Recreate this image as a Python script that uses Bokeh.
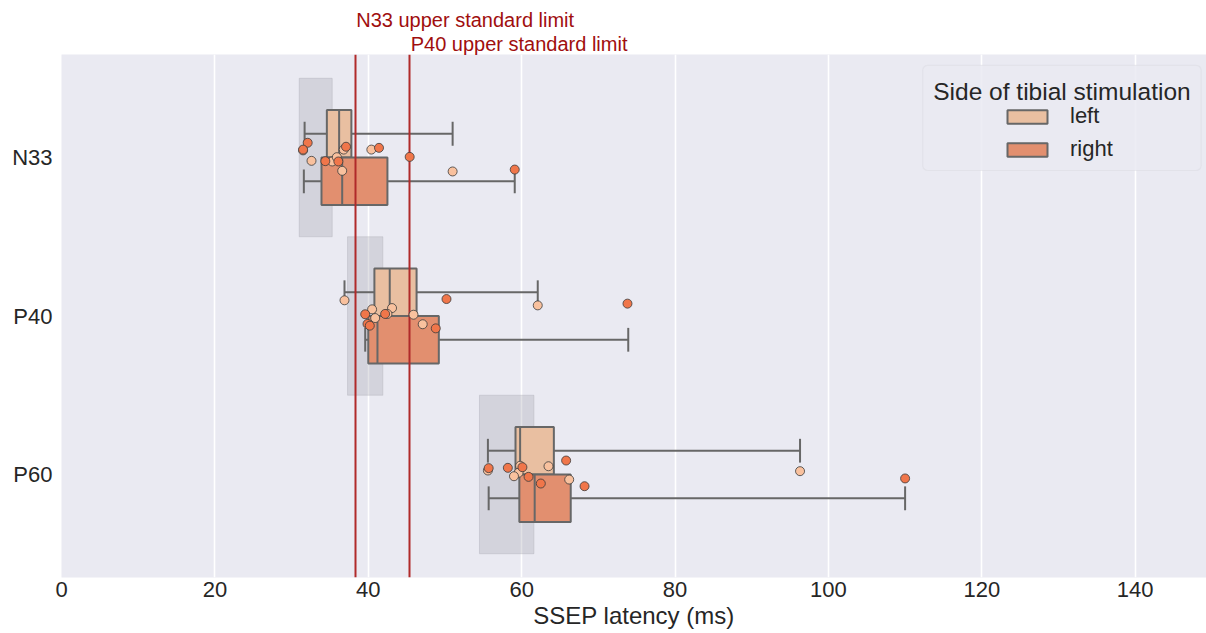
from bokeh.plotting import figure
from bokeh.models import (Range1d, FixedTicker, Label, Legend, LegendItem,
                          BoxAnnotation, ColumnDataSource, Title)
from bokeh.embed import file_html
from bokeh.resources import INLINE

# ---------------- data ----------------
components = ["N33", "P40", "P60"]
sides = ["left", "right"]

left_whisker_lo = [31.7, 36.9, 55.6]
left_q1 = [34.6, 40.8, 59.2]
left_median = [36.2, 42.8, 59.8]
left_q3 = [37.8, 46.3, 64.2]
left_whisker_hi = [51.0, 62.1, 96.3]

right_whisker_lo = [31.6, 39.6, 55.7]
right_q1 = [33.9, 40.0, 59.7]
right_median = [36.6, 41.2, 61.7]
right_q3 = [42.5, 49.2, 66.4]
right_whisker_hi = [59.1, 73.9, 110.0]

# normal (reference) latency range per component
normal_lo = [31.0, 37.3, 54.5]
normal_hi = [35.3, 41.9, 61.6]

limit_names = ["N33 upper standard limit", "P40 upper standard limit"]
limit_values = [38.3, 45.4]

# individual observations (component, latency, strip jitter)
left_comp = ["N33"] * 8 + ["P40"] * 8 + ["P60"] * 7
left_latency = [31.5, 32.6, 35.3, 35.9, 36.6, 36.8, 40.4, 51.0,
                36.9, 62.1, 40.5, 43.1, 42.5, 45.9, 40.9, 47.1,
                96.3, 55.6, 59.8, 59.6, 59.0, 63.5, 66.2]
left_jitter = [-0.045, 0.021, 0.025, -0.002, 0.084, -0.05, -0.05, 0.088,
               -0.099, -0.067, -0.042, -0.05, -0.013, -0.008, 0.013, 0.052,
               -0.021, -0.025, -0.055, -0.011, 0.011, -0.052, 0.032]

right_comp = ["N33"] * 8 + ["P40"] * 7 + ["P60"] * 8
right_latency = [32.1, 31.5, 34.4, 36.1, 37.1, 41.4, 45.4, 59.1,
                 50.2, 73.8, 39.6, 42.2, 39.9, 40.2, 48.8,
                 65.8, 110.0, 55.7, 58.2, 60.1, 60.9, 62.5, 68.2]
right_jitter = [-0.093, -0.05, 0.023, 0.025, -0.068, -0.061, -0.004, 0.076,
                -0.107, -0.078, -0.011, -0.013, 0.05, 0.061, 0.078,
                -0.088, 0.025, -0.04, -0.042, -0.046, 0.015, 0.057, 0.074]

# ---------------- style ----------------
FONT = "Liberation Sans"
TXT = "#262626"
BG = "#eaeaf2"
EDGE = "#676767"
box_fill = {"left": "#e9bfa1", "right": "#e28f6f"}
pt_fill = {"left": "#f9c19e", "right": "#f0764a"}
BOX_H = 0.3          # height of each hue box (category units)
CAP = 0.075
X_START, X_END = 0, 149.3
FRAME_W = 1206 - 61

idx = {c: i for i, c in enumerate(components)}

p = figure(width=1206, height=633, output_backend="svg", toolbar_location=None,
           x_range=Range1d(X_START, X_END), y_range=Range1d(2.65, -0.65),
           min_border_left=61, min_border_right=0, min_border_top=54,
           min_border_bottom=56)
p.background_fill_color = BG
p.border_fill_color = "white"
p.outline_line_color = None

# grid / axes
p.xgrid.ticker = FixedTicker(ticks=[0, 20, 40, 60, 80, 100, 120, 140])
p.xgrid.grid_line_color = "white"
p.xgrid.grid_line_width = 1.6
p.ygrid.grid_line_color = None

p.xaxis.ticker = FixedTicker(ticks=[0, 20, 40, 60, 80, 100, 120, 140])
p.yaxis.ticker = FixedTicker(ticks=list(range(len(components))))
p.yaxis.major_label_overrides = {i: c for i, c in enumerate(components)}
p.xaxis.axis_label = "SSEP latency (ms)"
for ax in (p.xaxis, p.yaxis):
    ax.axis_line_color = None
    ax.major_tick_line_color = None
    ax.minor_tick_line_color = None
    ax.major_tick_out = 0
    ax.major_tick_in = 0
    ax.major_label_text_font = FONT
    ax.major_label_text_font_size = "22px"
    ax.major_label_text_color = TXT
p.xaxis.major_label_standoff = 4
p.yaxis.major_label_standoff = 9
p.xaxis.axis_label_text_font = FONT
p.xaxis.axis_label_text_font_size = "24px"
p.xaxis.axis_label_text_font_style = "normal"
p.xaxis.axis_label_text_color = TXT
p.xaxis.axis_label_standoff = 2

# normal range shading
p.quad(left=normal_lo, right=normal_hi,
       top=[i - 0.5 for i in range(len(components))],
       bottom=[i + 0.5 for i in range(len(components))],
       fill_color="#a0a0a8", fill_alpha=0.3, line_color="#a0a0a8", line_alpha=0.3,
       line_width=1)

stats = {
    "left": (left_whisker_lo, left_q1, left_median, left_q3, left_whisker_hi, -BOX_H / 2),
    "right": (right_whisker_lo, right_q1, right_median, right_q3, right_whisker_hi, BOX_H / 2),
}
box_renderers = {}
for side in sides:
    wlo, q1, med, q3, whi, off = stats[side]
    y = [i + off for i in range(len(components))]
    src = ColumnDataSource(dict(y=y, wlo=wlo, q1=q1, med=med, q3=q3, whi=whi,
                                ylo=[v - CAP for v in y], yhi=[v + CAP for v in y],
                                blo=[v - BOX_H / 2 for v in y], bhi=[v + BOX_H / 2 for v in y]))
    p.segment(x0="wlo", y0="y", x1="q1", y1="y", source=src, line_color=EDGE, line_width=2)
    p.segment(x0="q3", y0="y", x1="whi", y1="y", source=src, line_color=EDGE, line_width=2)
    p.segment(x0="wlo", y0="ylo", x1="wlo", y1="yhi", source=src, line_color=EDGE, line_width=2)
    p.segment(x0="whi", y0="ylo", x1="whi", y1="yhi", source=src, line_color=EDGE, line_width=2)
    r = p.hbar(y="y", height=BOX_H, left="q1", right="q3", source=src,
               fill_color=box_fill[side], line_color=EDGE, line_width=2)
    box_renderers[side] = r
    p.segment(x0="med", y0="blo", x1="med", y1="bhi", source=src, line_color=EDGE, line_width=2)

# upper standard limits (lines + labels above the plot area)
p.vspan(x=limit_values, line_color="#b02a2a", line_width=2)
# titles added first sit closest to the frame -> add in reverse order
for name, xv in reversed(list(zip(limit_names, limit_values))):
    off = (xv - X_START) / (X_END - X_START) * FRAME_W + 1
    p.add_layout(Title(text=name, align="left", offset=off, standoff=0,
                       text_font=FONT, text_font_size="20px",
                       text_font_style="normal", text_color="#a00e0e"), "above")

# observations
for side, comps, lat, jit in (("left", left_comp, left_latency, left_jitter),
                              ("right", right_comp, right_latency, right_jitter)):
    ys = [idx[c] + j for c, j in zip(comps, jit)]
    p.scatter(x=lat, y=ys, size=9, fill_color=pt_fill[side],
              line_color="#3a3a3a", line_width=0.8)

# legend frame + title
p.add_layout(BoxAnnotation(left=112.3, right=148.6, top=-0.582, bottom=0.082,
                           fill_color=BG, fill_alpha=0.85, line_color="#cfcfd6",
                           line_width=1.2, border_radius=5, level="annotation"))
p.add_layout(Label(x=130.45, y=-0.418, text="Side of tibial stimulation",
                   text_align="center", text_baseline="alphabetic",
                   text_font=FONT, text_font_size="24.5px", text_color=TXT))

legend = Legend(items=[LegendItem(label=s, renderers=[box_renderers[s]]) for s in sides],
                location=(941, 415), orientation="vertical",
                padding=0, margin=0, spacing=7, glyph_width=50, glyph_height=17,
                label_standoff=18, label_text_font=FONT, label_text_font_size="22px",
                label_text_color=TXT, background_fill_alpha=0,
                border_line_color=None)
p.add_layout(legend)

open("out.html", "w").write(file_html(p, INLINE))
